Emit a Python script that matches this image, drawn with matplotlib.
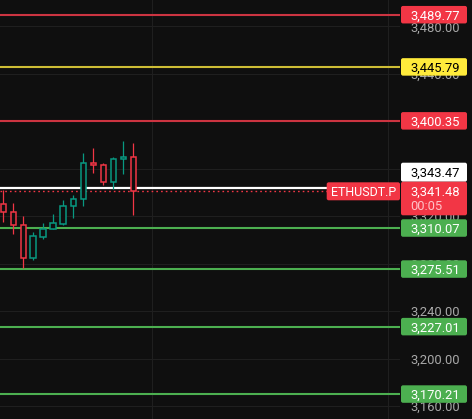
import matplotlib
matplotlib.use("Agg")
import matplotlib.pyplot as plt
from matplotlib.patches import Rectangle, FancyBboxPatch

# ---- data ----
opens  = [3330.3, 3323.5, 3312.3, 3284.5, 3302.7, 3308.9, 3313.7, 3328.3, 3334.3, 3364.6, 3362.9, 3348.6, 3367.9, 3369.6]
highs  = [3342.1, 3331.1, 3320.2, 3306.7, 3314.3, 3321.9, 3333.7, 3337.9, 3373.3, 3377.5, 3364.6, 3369.6, 3383.4, 3381.7]
lows   = [3315.4, 3304.8, 3276.1, 3283.4, 3301.0, 3308.9, 3312.9, 3318.7, 3328.9, 3356.7, 3346.6, 3342.9, 3355.8, 3321.3]
closes = [3323.3, 3312.3, 3284.5, 3303.1, 3309.2, 3314.0, 3328.3, 3334.3, 3364.6, 3362.9, 3348.6, 3367.9, 3369.6, 3341.48]

level_values = [3489.77, 3445.79, 3400.35, 3310.07, 3275.51, 3227.01, 3170.21]
level_kinds  = ["red", "yellow", "red", "green", "green", "green", "green"]

tick_values = [3160, 3200, 3240, 3280, 3320, 3360, 3400, 3440, 3480]

symbol = "ETHUSDT.P"
last_price = 3341.48
prev_price = 3343.47
countdown = "00:05"

# ---- style ----
W, H = 472, 419
DPI = 100
BG = "#0f0f0f"
GRID = "#1f1f1f"
UP = "#089981"
DOWN = "#f23645"
LINE_COLORS = {"red": "#cc3441", "yellow": "#cdbd35", "green": "#4caf50"}
BOX_COLORS = {"red": "#f23645", "yellow": "#ffeb3b", "green": "#4caf50"}
TEXT_COLORS = {"red": "white", "yellow": "black", "green": "white"}
FONT = "Roboto"
FS = 9.4

ylo, yhi = 3149.2, 3502.15
chart_w = 400

fig = plt.figure(figsize=(W / DPI, H / DPI), dpi=DPI, facecolor=BG)
ax = fig.add_axes([0, 0, chart_w / W, 1])
ax.set_facecolor(BG)
ax.set_ylim(ylo, yhi)
ax.set_xlim(-0.33, 39.67)
for s in ax.spines.values():
    s.set_visible(False)
ax.set_xticks([])
ax.yaxis.tick_right()
ax.set_yticks(tick_values)
ax.set_yticklabels([f"{v:,.2f}" for v in tick_values], fontfamily=FONT, fontsize=FS, color="#a8a8a8")
ax.tick_params(axis="y", length=0, pad=7.3)
ax.grid(axis="y", color=GRID, linewidth=0.8)
for xv in [14.84, 38.47]:
    ax.axvline(xv, color=GRID, linewidth=0.8, zorder=0)

# level lines
for v, k in zip(level_values, level_kinds):
    ax.axhline(v, color=LINE_COLORS[k], linewidth=1.5, zorder=2)

# current price lines
ax.axhline(prev_price, color="white", linewidth=1.6, zorder=2)
ax.axhline(last_price, color=DOWN, linewidth=1.0, linestyle=(0, (1.2, 2.2)), zorder=2)

# candles (hollow)
bw = 0.56
for i, (o, h, l, c) in enumerate(zip(opens, highs, lows, closes)):
    col = UP if c >= o else DOWN
    ax.vlines(i, l, h, color=col, linewidth=0.9, zorder=3)
    lo_b, hi_b = min(o, c), max(o, c)
    ax.add_patch(Rectangle((i - bw / 2, lo_b), bw, max(hi_b - lo_b, 0.8),
                           facecolor=BG, edgecolor=col, linewidth=1.1, zorder=4))

# overlay in pixel coords
ov = fig.add_axes([0, 0, 1, 1], zorder=10)
ov.set_xlim(0, W)
ov.set_ylim(H, 0)
ov.axis("off")
ov.patch.set_alpha(0)


def ypx(v):
    return (yhi - v) / (yhi - ylo) * H


def box(x0, y0, w, h, color):
    ov.add_patch(FancyBboxPatch((x0, y0), w, h, boxstyle="round,pad=0,rounding_size=2",
                                facecolor=color, edgecolor="none"))


bx0, bw_px, bh = 401, 66, 17.5
tx = 435.5
for v, k in zip(level_values, level_kinds):
    y = ypx(v)
    box(bx0, y - bh / 2, bw_px, bh, BOX_COLORS[k])
    ov.text(tx, y, f"{v:,.2f}", ha="center", va="center_baseline", fontfamily=FONT,
            fontsize=FS, color=TEXT_COLORS[k])

# previous close (white) label, shifted above
box(bx0, 162.7, bw_px, 19, "white")
ov.text(tx, 172.2, f"{prev_price:,.2f}", ha="center", va="center_baseline",
        fontfamily=FONT, fontsize=FS, color="black")

# last price label with countdown
yl = ypx(last_price)
box(bx0, 181.7, bw_px, 33.6, DOWN)
ov.text(tx, yl, f"{last_price:,.2f}", ha="center", va="center_baseline",
        fontfamily=FONT, fontsize=FS, color="white")
ov.text(410, 205.3, countdown, ha="left", va="center_baseline",
        fontfamily=FONT, fontsize=FS, color="#ffc2c7")

# symbol label
box(326.7, 182.3, 73.3, 18, DOWN)
ov.text(363.3, 191.3, symbol, ha="center", va="center_baseline",
        fontfamily=FONT, fontsize=9.0, color="white")

fig.savefig("out.png", dpi=DPI, facecolor=BG)
